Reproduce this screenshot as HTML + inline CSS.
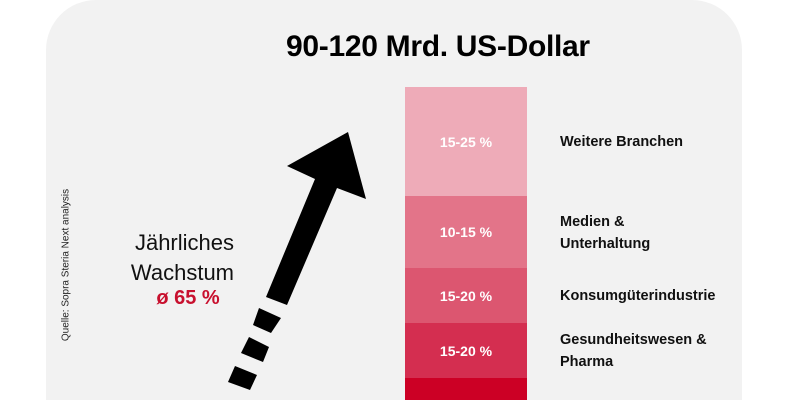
<!DOCTYPE html>
<html style="width:800px;height:400px;overflow:hidden"><head><meta charset="utf-8"><style>
body{margin:0;width:800px;height:400px;background:#fff;overflow:hidden;position:relative;font-family:"Liberation Sans","DejaVu Sans",sans-serif}
.card{position:absolute;left:46px;top:0;width:696px;height:400px;background:#f2f2f2;border-radius:50px 50px 0 0}
.t{position:absolute;white-space:nowrap}
.seg{position:absolute;left:405px;width:122px;color:#fff;font-weight:bold;font-size:14px;display:flex;align-items:center;justify-content:center}
.lab{position:absolute;left:560px;font-weight:bold;font-size:14.5px;line-height:22px;color:#111}
</style></head><body>
<div class="card"></div>
<div class="t" style="left:286px;top:30px;font-size:30px;font-weight:bold;color:#000;letter-spacing:-0.3px">90-120 Mrd. US-Dollar</div>
<div class="seg" style="top:87px;height:109px;background:#eeabb8">15-25 %</div>
<div class="seg" style="top:196px;height:72px;background:#e37489">10-15 %</div>
<div class="seg" style="top:268px;height:55px;background:#dc5670">15-20 %</div>
<div class="seg" style="top:323px;height:55px;background:#d42e50">15-20 %</div>
<div class="seg" style="top:378px;height:22px;background:#cc0025"></div>
<div class="lab" style="top:131px">Weitere Branchen</div>
<div class="lab" style="top:211px">Medien &amp;<br>Unterhaltung</div>
<div class="lab" style="top:285px">Konsumgüterindustrie</div>
<div class="lab" style="top:329px">Gesundheitswesen &amp;<br>Pharma</div>
<div class="t" style="left:112px;top:228px;width:122px;text-align:right;font-size:22px;line-height:30px;color:#111">Jährliches<br>Wachstum</div>
<div class="t" style="left:148px;top:287px;width:80px;text-align:center;font-size:20px;font-weight:bold;color:#c8102e">ø 65 %</div>
<div class="t" style="left:66px;top:265px;transform:translate(-50%,-50%) rotate(-90deg);font-size:10px;color:#222">Quelle: Sopra Steria Next analysis</div>
<svg width="800" height="400" style="position:absolute;left:0;top:0">
<polygon fill="#000" points="348,132 366,199 337,188 287,305 266,297 315,179 287,166"/>
<polygon fill="#000" points="259,308 281,318 271,333 253,325"/>
<polygon fill="#000" points="249,337 269,347 263,362 241,353"/>
<polygon fill="#000" points="235,366 257,375 250,390 228,382"/>
</svg>
</body></html>
